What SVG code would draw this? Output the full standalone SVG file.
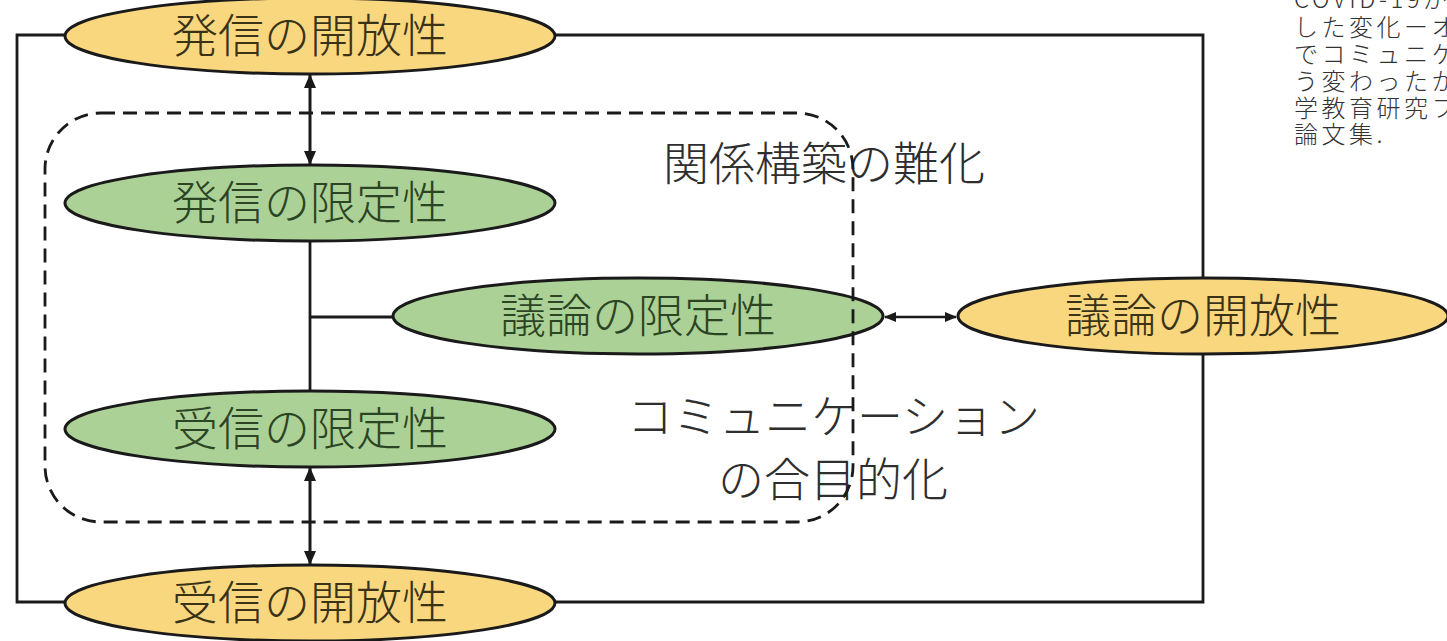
<svg xmlns="http://www.w3.org/2000/svg" width="1447" height="641" viewBox="0 0 1447 641">
<defs>
<style>
.ell{stroke:#1a1a1a;stroke-width:3}
.open{fill:#f9d77e}
.lim{fill:#acd196}
.lbl{font-family:"Noto Sans CJK JP","Noto Sans",sans-serif;font-size:46px;font-weight:300;text-anchor:middle}
.topen{fill:#3a3217}
.tlim{fill:#2b4424}
.cap{font-family:"Noto Sans CJK JP","Noto Sans",sans-serif;font-size:46px;font-weight:300;fill:#2e2e2e}
.ref{font-family:"Noto Sans CJK JP","Noto Sans",sans-serif;font-size:24px;font-weight:300;fill:#333;letter-spacing:3.5px}
.line{fill:none;stroke:#1a1a1a;stroke-width:2.8}
.arr{fill:none;stroke:#1a1a1a;stroke-width:3;marker-start:url(#ah);marker-end:url(#ah)}
.arrs{fill:none;stroke:#1a1a1a;stroke-width:2.6;marker-start:url(#ahs);marker-end:url(#ahs)}
.dash{fill:none;stroke:#1a1a1a;stroke-width:2.8;stroke-dasharray:14 8}
</style>
<marker id="ah" viewBox="0 0 14 12" refX="13" refY="6" markerWidth="14" markerHeight="12" markerUnits="userSpaceOnUse" orient="auto-start-reverse">
<path d="M0,0 L14,6 L0,12 Z" fill="#1a1a1a"/>
</marker>
<marker id="ahs" viewBox="0 0 12 10" refX="11" refY="5" markerWidth="12" markerHeight="10" markerUnits="userSpaceOnUse" orient="auto-start-reverse">
<path d="M0,0 L12,5 L0,10 Z" fill="#1a1a1a"/>
</marker>
</defs>
<rect width="1447" height="641" fill="#fff"/>
<g id="connectors">
<path class="line" d="M65,35 H17 V602 H65"/>
<path class="line" d="M555,35 H1203 V279"/>
<path class="line" d="M1203,355 V602 H555"/>
<path class="line" d="M310,241 V390"/>
<path class="line" d="M310,317 H392"/>
<path class="arr" d="M310,75 V164"/>
<path class="arr" d="M310,468 V564"/>
<path class="arrs" d="M885,317 H956"/>
</g>
<g id="n-hasshin-kaihou">
<ellipse class="ell open" cx="310" cy="36" rx="245" ry="38"/>
<text class="lbl topen" x="310" y="52">発信の開放性</text>
</g>
<g id="n-hasshin-gentei">
<ellipse class="ell lim" cx="310" cy="203" rx="245" ry="38"/>
<text class="lbl tlim" x="310" y="219">発信の限定性</text>
</g>
<g id="n-giron-gentei">
<ellipse class="ell lim" cx="638" cy="316" rx="245" ry="38"/>
<text class="lbl tlim" x="638" y="332">議論の限定性</text>
</g>
<g id="n-giron-kaihou">
<ellipse class="ell open" cx="1203" cy="316" rx="245" ry="38"/>
<text class="lbl topen" x="1203" y="332">議論の開放性</text>
</g>
<g id="n-jushin-gentei">
<ellipse class="ell lim" cx="310" cy="429" rx="245" ry="38"/>
<text class="lbl tlim" x="310" y="445">受信の限定性</text>
</g>
<g id="n-jushin-kaihou">
<ellipse class="ell open" cx="310" cy="603" rx="245" ry="38"/>
<text class="lbl topen" x="310" y="619">受信の開放性</text>
</g>
<g id="labels">
<text class="cap" x="663" y="180">関係構築の難化</text>
<text class="cap" x="627" y="433">コミュニケーション</text>
<text class="cap" x="718" y="496">の合目的化</text>
</g>
<g id="group-boundary">
<rect class="dash" x="45" y="113" width="808" height="409" rx="56" ry="56"/>
</g>
<g id="reference">
<text class="ref" x="1294" y="8">COVID-19が</text>
<text class="ref" x="1294" y="36">した変化ーオ</text>
<text class="ref" x="1294" y="63">でコミュニケ</text>
<text class="ref" x="1294" y="90">う変わったか</text>
<text class="ref" x="1294" y="117">学教育研究フ</text>
<text class="ref" x="1294" y="143">論文集.</text>
</g>
</svg>
